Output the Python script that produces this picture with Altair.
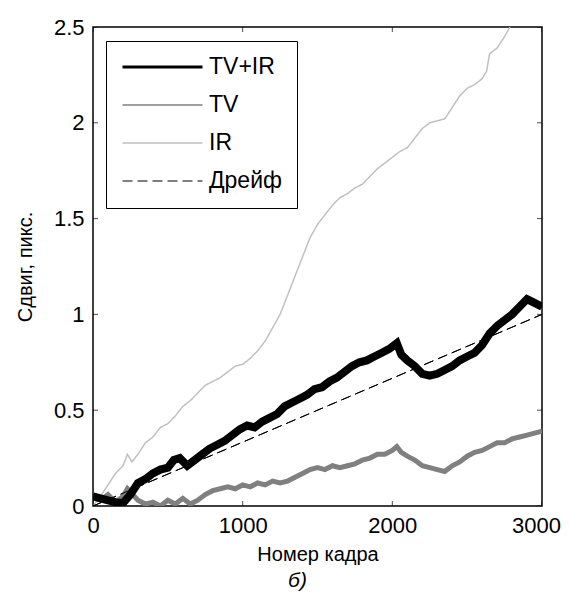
import altair as alt
import pandas as pd

series_order = ["TV+IR", "TV", "IR", "Дрейф"]
series_colors = ["#000000", "#808080", "#c0c0c0", "#000000"]
series_dash = [[1, 0], [1, 0], [1, 0], [10, 5]]
series_width = [3, 1.5, 1.5, 1]

x_ticks = [0, 1000, 2000, 3000]
y_ticks = [0, 0.5, 1, 1.5, 2, 2.5]

tvir_frames = [0, 50, 100, 150, 200, 250, 300, 350, 400, 450, 500, 540, 580, 630, 680,
               730, 780, 830, 880, 930, 980, 1030, 1080, 1130, 1180, 1230, 1280, 1330,
               1380, 1430, 1480, 1530, 1580, 1630, 1680, 1730, 1780, 1830, 1880, 1930,
               1980, 2030, 2060, 2100, 2150, 2200, 2250, 2300, 2350, 2400, 2450, 2500,
               2550, 2600, 2650, 2700, 2750, 2800, 2850, 2900, 2950, 3000]
tvir_values = [0.05, 0.04, 0.03, 0.02, 0.015, 0.06, 0.12, 0.14, 0.17, 0.19, 0.20, 0.24,
               0.25, 0.21, 0.24, 0.27, 0.30, 0.32, 0.34, 0.37, 0.40, 0.42, 0.41, 0.44,
               0.46, 0.48, 0.52, 0.54, 0.56, 0.58, 0.61, 0.62, 0.65, 0.67, 0.70, 0.73,
               0.75, 0.76, 0.78, 0.80, 0.82, 0.85, 0.79, 0.76, 0.73, 0.69, 0.68, 0.69,
               0.71, 0.73, 0.76, 0.78, 0.80, 0.84, 0.90, 0.94, 0.97, 1.00, 1.04, 1.08,
               1.06, 1.04]

tv_frames = [0, 50, 100, 150, 200, 230, 300, 350, 400, 450, 500, 550, 600, 650, 700, 750,
             800, 850, 900, 950, 1000, 1050, 1100, 1150, 1200, 1250, 1300, 1350, 1400,
             1450, 1500, 1550, 1600, 1650, 1700, 1750, 1800, 1850, 1900, 1950, 2000, 2030,
             2060, 2100, 2150, 2200, 2250, 2300, 2350, 2400, 2450, 2500, 2550, 2600, 2650,
             2700, 2750, 2800, 2850, 2900, 2950, 3000]
tv_values = [0.05, 0.03, 0.06, 0.02, 0.05, 0.09, 0.03, 0.01, 0.02, 0.00, 0.03, 0.01, 0.04,
             0.01, 0.03, 0.06, 0.08, 0.09, 0.10, 0.09, 0.11, 0.10, 0.12, 0.11, 0.13, 0.12,
             0.13, 0.15, 0.17, 0.19, 0.20, 0.19, 0.21, 0.20, 0.21, 0.22, 0.24, 0.25, 0.27,
             0.27, 0.29, 0.31, 0.28, 0.26, 0.24, 0.21, 0.20, 0.19, 0.18, 0.21, 0.23, 0.26,
             0.28, 0.29, 0.31, 0.33, 0.33, 0.35, 0.36, 0.37, 0.38, 0.39]

ir_frames = [0, 50, 100, 150, 200, 230, 260, 300, 350, 400, 450, 500, 550, 600, 650, 700,
             750, 800, 850, 900, 950, 1000, 1050, 1100, 1150, 1200, 1250, 1300, 1350, 1400,
             1450, 1500, 1550, 1600, 1650, 1700, 1750, 1800, 1850, 1900, 1950, 2000, 2050,
             2100, 2150, 2200, 2250, 2300, 2350, 2400, 2450, 2500, 2550, 2600, 2630, 2650,
             2700, 2750, 2800, 2900, 3000]
ir_values = [0.00, 0.05, 0.11, 0.17, 0.21, 0.27, 0.23, 0.27, 0.33, 0.36, 0.41, 0.43, 0.47,
             0.52, 0.55, 0.59, 0.63, 0.65, 0.67, 0.70, 0.73, 0.74, 0.77, 0.81, 0.86, 0.93,
             1.00, 1.10, 1.20, 1.30, 1.40, 1.47, 1.52, 1.57, 1.61, 1.63, 1.66, 1.68, 1.72,
             1.76, 1.79, 1.82, 1.85, 1.87, 1.92, 1.97, 2.00, 2.01, 2.02, 2.08, 2.14, 2.18,
             2.20, 2.23, 2.27, 2.36, 2.39, 2.45, 2.52, 2.62, 2.72]

drift_frames = [0, 3000]
drift_values = [0.0, 1.0]

rows = []
for name, fr, vals in [("IR", ir_frames, ir_values), ("TV", tv_frames, tv_values),
                       ("TV+IR", tvir_frames, tvir_values), ("Дрейф", drift_frames, drift_values)]:
    for f, v in zip(fr, vals):
        rows.append({"series": name, "frame": f, "value": v})
df = pd.DataFrame(rows)

tick_rows = []
for f in x_ticks:
    tick_rows.append({"frame": f, "value": 0.0, "kind": "x"})
    tick_rows.append({"frame": f, "value": 2.5, "kind": "x"})
for v in y_ticks:
    tick_rows.append({"frame": 0, "value": v, "kind": "y"})
    tick_rows.append({"frame": 3000, "value": v, "kind": "y"})
ticks_df = pd.DataFrame(tick_rows)

FONT = "Liberation Sans"

x_enc = alt.X("frame:Q", scale=alt.Scale(domain=[0, 3000], nice=False, zero=False),
              axis=alt.Axis(values=x_ticks, format="d", title="Номер кадра", labelFlush=False,
                            labelOffset=alt.condition("datum.value == 3000", alt.value(-6), alt.value(0)),
                            labelPadding=9, titlePadding=8))
y_enc = alt.Y("value:Q", scale=alt.Scale(domain=[0, 2.5], nice=False),
              axis=alt.Axis(values=y_ticks, labelExpr="datum.value + ''", title="Сдвиг, пикс.",
                            labelPadding=9, titlePadding=18))

leg = alt.Legend(title=None, orient="none", legendX=13, legendY=14, symbolType="stroke",
                 symbolSize=6400, clipHeight=22, labelFont=FONT, labelFontSize=23,
                 labelColor="black", padding=15, rowPadding=15, labelOffset=5,
                 strokeColor="black", fillColor="white", cornerRadius=0)

base = alt.Chart(df)

legend_lines = base.mark_line(clip=True).encode(
    x=x_enc, y=y_enc,
    color=alt.Color("series:N", scale=alt.Scale(domain=series_order, range=series_colors), legend=leg),
    strokeDash=alt.StrokeDash("series:N", scale=alt.Scale(domain=series_order, range=series_dash), legend=leg),
    strokeWidth=alt.StrokeWidth("series:N", scale=alt.Scale(type="ordinal", domain=series_order, range=series_width), legend=leg),
)

tv_thick = base.transform_filter(alt.datum.series == "TV").mark_line(
    clip=True, color="#808080", strokeWidth=5).encode(x=x_enc, y=y_enc)
tvir_thick = base.transform_filter(alt.datum.series == "TV+IR").mark_line(
    clip=True, color="#000000", strokeWidth=8).encode(x=x_enc, y=y_enc)
drift_top = base.transform_filter(alt.datum.series == "Дрейф").mark_line(
    clip=True, color="#000000", strokeWidth=1, strokeDash=[10, 5]).encode(x=x_enc, y=y_enc)

tick_base = alt.Chart(ticks_df)
xt = tick_base.transform_filter(alt.datum.kind == "x").mark_tick(
    clip=True, orient="vertical", size=10, thickness=1, color="black").encode(x=x_enc, y=y_enc)
yt = tick_base.transform_filter(alt.datum.kind == "y").mark_tick(
    clip=True, orient="horizontal", size=10, thickness=1, color="black").encode(x=x_enc, y=y_enc)

chart = alt.layer(legend_lines, tv_thick, tvir_thick, drift_top, xt, yt).properties(
    width=449, height=479,
    background="white",
    title=alt.TitleParams("б)", orient="bottom", anchor="middle", frame="group",
                          fontStyle="italic", fontWeight="normal", fontSize=21, font=FONT,
                          color="black", offset=6, dx=-20),
    autosize=alt.AutoSizeParams(type="none"),
    padding={"left": 85, "top": 19, "right": 20, "bottom": 90},
).configure_view(stroke="black", strokeWidth=1.5).configure_axis(
    ticks=False, domain=False, grid=False, labelFont=FONT, labelFontSize=22,
    labelColor="black", titleFont=FONT, titleFontSize=20, titleFontWeight="normal",
    titleColor="black", tickSize=0
)

chart.save("out.html", embed_options={"renderer": "svg", "actions": False})
